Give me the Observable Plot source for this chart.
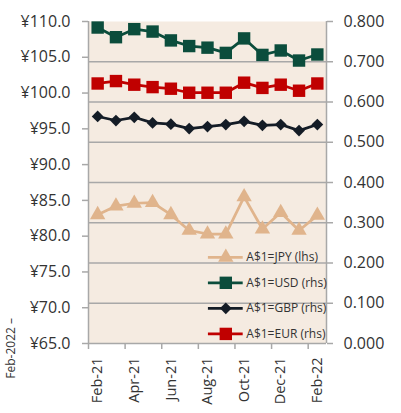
<!DOCTYPE html>
<html>
<head>
<meta charset="utf-8">
<script src="https://cdn.jsdelivr.net/npm/d3@7"></script>
<script src="https://cdn.jsdelivr.net/npm/@observablehq/plot@0.6"></script>
<style>
  html, body { margin: 0; padding: 0; background: #ffffff; }
  #wrap { position: relative; width: 401px; height: 413px; overflow: hidden; font-family: "Open Sans", sans-serif; }
  #edge { position: absolute; left: 0; top: 0; }
</style>
</head>
<body>
<div id="wrap"></div>
<script>
// ---- data ----
const months = ["Feb-21","Mar-21","Apr-21","May-21","Jun-21","Jul-21","Aug-21","Sep-21","Oct-21","Nov-21","Dec-21","Jan-22","Feb-22"];
const jpy = [83.0, 84.2, 84.6, 84.7, 83.0, 80.8, 80.3, 80.3, 85.5, 81.0, 83.3, 80.8, 82.9];
const usd = [0.785, 0.761, 0.781, 0.775, 0.753, 0.739, 0.735, 0.722, 0.758, 0.717, 0.728, 0.703, 0.718];
const gbp = [0.564, 0.554, 0.562, 0.548, 0.545, 0.534, 0.539, 0.544, 0.552, 0.542, 0.544, 0.529, 0.544];
const eur = [0.646, 0.652, 0.643, 0.637, 0.633, 0.623, 0.623, 0.623, 0.648, 0.635, 0.643, 0.628, 0.646];
const lhsTicks = [65, 70, 75, 80, 85, 90, 95, 100, 105, 110];
const rhsTicks = [0, 0.1, 0.2, 0.3, 0.4, 0.5, 0.6, 0.7, 0.8];
const seriesNames = ["A$1=JPY (lhs)", "A$1=USD (rhs)", "A$1=GBP (rhs)", "A$1=EUR (rhs)"];

// ---- styling ----
const colJPY = "#e0b48c", colUSD = "#0b4d3c", colGBP = "#141c26", colEUR = "#c00000";
const gridCol = "#a8a8a8", textCol = "#333333";

// map right-hand values onto left-hand scale
const lhsMin = 65, lhsMax = 110, rhsMin = 0, rhsMax = 0.8;
const toL = r => lhsMin + (r - rhsMin) * (lhsMax - lhsMin) / (rhsMax - rhsMin);
const fromL = v => rhsMin + (v - lhsMin) * (rhsMax - rhsMin) / (lhsMax - lhsMin);

const rows = months.map((m, i) => ({i, m, jpy: jpy[i], usd: toL(usd[i]), gbp: toL(gbp[i]), eur: toL(eur[i])}));
const n = months.length;
const boundaries = d3.range(-0.5, n - 1, 2);
const labelRows = rows.filter(d => d.i % 2 === 0);

// legend layout (in data units)
const legLineX = [6.05, 7.95], legMarkX = 7.0, legTextX = 8.12;
const legTop = 77.05, legStep = 3.57;
const legY = k => legTop - k * legStep;

function legendRow(k, color, symbol, r) {
  const d = [{name: seriesNames[k]}];
  return [
    Plot.ruleY(d, {y: () => legY(k), x1: legLineX[0], x2: legLineX[1], stroke: color, strokeWidth: 2.75}),
    Plot.dot(d, {x: () => legMarkX, y: () => legY(k), symbol, r, fill: color, stroke: null}),
    Plot.text(d, {x: () => legTextX, y: () => legY(k), text: "name", textAnchor: "start", fill: textCol, fontSize: 12})
  ];
}

const chart = Plot.plot({
  width: 401,
  height: 413,
  marginLeft: 88,
  marginRight: 75,
  marginTop: 21,
  marginBottom: 70,
  style: {fontFamily: "'Open Sans', sans-serif", background: "transparent"},
  x: {type: "linear", domain: [-0.5, n - 0.5], axis: null},
  y: {domain: [lhsMin, lhsMax], axis: null},
  marks: [
    Plot.frame({fill: "#f5ebe1", stroke: null}),
    Plot.ruleY(rhsTicks.slice(1, -1).map(toL), {stroke: gridCol, strokeWidth: 1.5}),
    Plot.ruleY([lhsMin], {stroke: gridCol, strokeWidth: 1.5}),
    Plot.ruleX([-0.5, n - 0.5], {stroke: gridCol, strokeWidth: 1.5}),
    Plot.axisY(lhsTicks, {anchor: "left", tickSize: 6, tickPadding: 12, stroke: gridCol, strokeWidth: 1.5, fill: textCol, fontSize: 16, label: null, tickFormat: d => "¥" + d.toFixed(1)}),
    Plot.axisY(rhsTicks.map(toL), {anchor: "right", tickSize: 6, tickPadding: 11, stroke: gridCol, strokeWidth: 1.5, fill: textCol, fontSize: 16, label: null, tickFormat: d => fromL(d).toFixed(3)}),
    Plot.axisX(boundaries, {anchor: "bottom", tickSize: 6, tickFormat: () => "", stroke: gridCol, strokeWidth: 1.5, label: null}),
    Plot.text(labelRows, {x: "i", frameAnchor: "bottom", text: "m", rotate: -90, textAnchor: "end", lineAnchor: "middle", dy: 14, fill: textCol, fontSize: 14.5}),

    Plot.line(rows, {x: "i", y: "jpy", stroke: colJPY, strokeWidth: 2.75}),
    Plot.dot(rows, {x: "i", y: "jpy", symbol: "triangle", r: 5.7, fill: colJPY, stroke: null}),
    Plot.line(rows, {x: "i", y: "usd", stroke: colUSD, strokeWidth: 2.75}),
    Plot.dot(rows, {x: "i", y: "usd", symbol: "square", r: 7, fill: colUSD, stroke: null}),
    Plot.line(rows, {x: "i", y: "gbp", stroke: colGBP, strokeWidth: 2.75}),
    Plot.dot(rows, {x: "i", y: "gbp", symbol: "diamond2", r: 5.3, fill: colGBP, stroke: null}),
    Plot.line(rows, {x: "i", y: "eur", stroke: colEUR, strokeWidth: 2.75}),
    Plot.dot(rows, {x: "i", y: "eur", symbol: "square", r: 7, fill: colEUR, stroke: null}),

    ...legendRow(0, colJPY, "triangle", 5.7),
    ...legendRow(1, colUSD, "square", 7),
    ...legendRow(2, colGBP, "diamond2", 5.3),
    ...legendRow(3, colEUR, "square", 7)
  ]
});
document.getElementById("wrap").appendChild(chart);

// label of the neighbouring chart at the left edge
const edge = d3.select("#wrap").append("svg").attr("id", "edge").attr("width", 20).attr("height", 413);
edge.append("text")
  .attr("transform", "translate(15,318) rotate(-90)")
  .attr("text-anchor", "end")
  .attr("font-family", "'Open Sans', sans-serif")
  .attr("font-size", 12)
  .attr("fill", textCol)
  .text("Feb-2022 –");
</script>
</body>
</html>
